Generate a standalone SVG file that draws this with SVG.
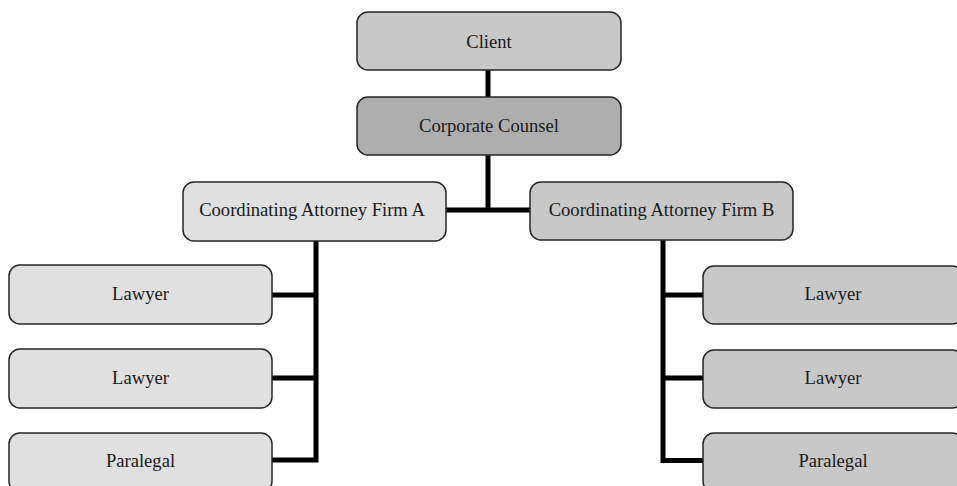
<svg xmlns="http://www.w3.org/2000/svg" width="957" height="486" viewBox="0 0 957 486">
<style>
.box{stroke:#262626;stroke-width:1.5}
.l1{fill:#e0e0e0}
.l2{fill:#c8c8c8}
.l3{fill:#aeaeae}
.t{font-family:"Liberation Serif","Times New Roman",serif;font-size:18.6px;fill:#1a1a1a;text-anchor:middle}
.c{fill:none;stroke:#000;stroke-width:5;stroke-linejoin:miter}
</style>
<rect width="957" height="486" fill="#fff"/>
<g id="connectors">
<path class="c" d="M488,70 V97"/>
<path class="c" d="M488,155 V210 M446,210 H530"/>
<path class="c" d="M316,241 V462.5 M272,295 H316 M272,378 H316 M272,460 H318.5"/>
<path class="c" d="M663,240 V463 M660.5,295 H703 M663,378 H703 M660.5,460.5 H703"/>
</g>
<g id="client"><rect class="box l2" x="357" y="12" width="264" height="58" rx="11"/><text class="t" x="489" y="48">Client</text></g>
<g id="corporate-counsel"><rect class="box l3" x="357" y="97" width="264" height="58" rx="11"/><text class="t" x="489" y="132">Corporate Counsel</text></g>
<g id="firm-a"><rect class="box l1" x="183" y="182" width="263" height="59" rx="11"/><text class="t" x="312" y="216">Coordinating Attorney Firm A</text></g>
<g id="firm-b"><rect class="box l2" x="530" y="182" width="263" height="58" rx="11"/><text class="t" x="661.5" y="216">Coordinating Attorney Firm B</text></g>
<g id="a-lawyer-1"><rect class="box l1" x="9" y="265" width="263" height="59" rx="11"/><text class="t" x="140.5" y="300">Lawyer</text></g>
<g id="a-lawyer-2"><rect class="box l1" x="9" y="349" width="263" height="59" rx="11"/><text class="t" x="140.5" y="384">Lawyer</text></g>
<g id="a-paralegal"><rect class="box l1" x="9" y="433" width="263" height="59" rx="11"/><text class="t" x="140.5" y="467">Paralegal</text></g>
<g id="b-lawyer-1"><rect class="box l2" x="703" y="266" width="260" height="58" rx="11"/><text class="t" x="833" y="300">Lawyer</text></g>
<g id="b-lawyer-2"><rect class="box l2" x="703" y="350" width="260" height="58" rx="11"/><text class="t" x="833" y="384">Lawyer</text></g>
<g id="b-paralegal"><rect class="box l2" x="703" y="433" width="260" height="59" rx="11"/><text class="t" x="833" y="467">Paralegal</text></g>
</svg>
